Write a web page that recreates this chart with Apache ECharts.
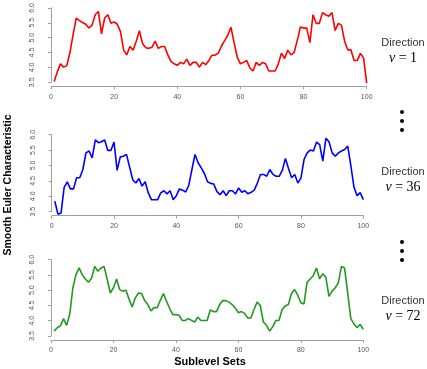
<!DOCTYPE html>
<html>
<head>
<meta charset="utf-8">
<script src="https://cdn.jsdelivr.net/npm/echarts@6/dist/echarts.min.js"></script>
<style>
  html, body { margin: 0; padding: 0; background: #fff; }
  #chart { width: 427px; height: 369px; }
</style>
</head>
<body>
<div id="chart"></div>
<script>
// sublevel set index 1..100
const sublevels = [
  1, 2, 3, 4, 5, 6, 7, 8, 9, 10, 11, 12, 13, 14, 15, 16, 17, 18, 19, 20,
  21, 22, 23, 24, 25, 26, 27, 28, 29, 30, 31, 32, 33, 34, 35, 36, 37, 38, 39, 40,
  41, 42, 43, 44, 45, 46, 47, 48, 49, 50, 51, 52, 53, 54, 55, 56, 57, 58, 59, 60,
  61, 62, 63, 64, 65, 66, 67, 68, 69, 70, 71, 72, 73, 74, 75, 76, 77, 78, 79, 80,
  81, 82, 83, 84, 85, 86, 87, 88, 89, 90, 91, 92, 93, 94, 95, 96, 97, 98, 99, 100
]

// direction nu = 1
const dir1 = [
  3.53, 3.85, 4.12, 4.01, 4.06, 4.50, 5.10, 5.66, 5.57, 5.51,
  5.45, 5.32, 5.42, 5.77, 5.88, 5.13, 5.66, 5.77, 5.48, 5.53,
  5.45, 5.20, 4.58, 4.42, 4.70, 4.58, 4.88, 5.23, 4.80, 4.66,
  4.64, 4.68, 4.88, 4.64, 4.70, 4.70, 4.42, 4.20, 4.12, 4.07,
  4.17, 4.12, 4.28, 4.07, 4.17, 4.17, 4.01, 4.17, 4.09, 4.23,
  4.41, 4.41, 4.48, 4.72, 4.90, 5.08, 5.35, 4.83, 4.34, 4.12,
  4.17, 4.23, 3.98, 3.88, 4.17, 4.07, 4.17, 4.12, 3.88, 3.88,
  3.88, 4.12, 4.48, 4.30, 4.58, 4.42, 4.50, 4.90, 5.36, 5.32,
  5.32, 4.83, 5.77, 5.48, 5.48, 5.84, 5.77, 5.72, 5.84, 5.24,
  5.48, 5.42, 4.88, 4.59, 4.59, 4.23, 4.23, 4.47, 4.32, 3.47
]

// direction nu = 36
const dir36 = [
  3.84, 3.42, 3.46, 4.29, 4.47, 4.24, 4.24, 4.60, 4.60, 4.87,
  5.41, 5.47, 5.25, 5.83, 5.74, 5.77, 5.83, 5.49, 5.49, 5.76,
  4.84, 5.28, 5.30, 5.36, 4.95, 4.54, 4.43, 4.58, 4.33, 4.47,
  4.11, 3.89, 3.89, 3.89, 4.11, 4.18, 4.08, 4.18, 3.89, 4.02,
  4.24, 4.20, 4.14, 4.36, 4.87, 5.36, 5.09, 4.92, 4.74, 4.47,
  4.42, 4.40, 4.16, 4.05, 4.18, 4.02, 4.18, 4.18, 4.08, 4.27,
  4.13, 4.18, 4.08, 4.13, 4.20, 4.43, 4.71, 4.71, 4.65, 4.87,
  4.71, 4.65, 4.65, 4.84, 5.23, 4.90, 4.60, 4.71, 4.43, 4.60,
  5.20, 5.41, 5.50, 5.47, 5.76, 5.68, 5.14, 5.88, 5.77, 5.41,
  5.30, 5.41, 5.47, 5.52, 5.63, 5.00, 4.30, 4.02, 4.12, 3.89
]

// direction nu = 72
const dir72 = [
  3.66, 3.77, 3.83, 4.07, 3.85, 4.21, 5.08, 5.51, 5.73, 5.51,
  5.37, 5.26, 5.40, 5.78, 5.62, 5.73, 5.78, 5.35, 4.91, 5.08,
  5.37, 5.02, 4.97, 5.00, 4.70, 4.45, 4.75, 4.91, 4.89, 4.66,
  4.53, 4.32, 4.43, 4.43, 4.67, 4.89, 4.64, 4.40, 4.20, 4.20,
  4.18, 4.01, 4.01, 4.07, 4.01, 3.96, 4.12, 4.01, 4.01, 4.01,
  4.35, 4.30, 4.30, 4.53, 4.66, 4.66, 4.61, 4.53, 4.42, 4.26,
  4.30, 4.24, 4.09, 4.09, 4.37, 4.61, 4.50, 3.96, 3.85, 3.66,
  3.80, 4.01, 4.01, 4.37, 4.48, 4.53, 4.89, 5.02, 4.84, 4.59,
  4.55, 5.26, 5.37, 5.48, 5.73, 5.37, 5.54, 5.43, 4.80, 4.97,
  5.08, 5.24, 5.78, 5.73, 4.91, 4.07, 3.90, 3.77, 3.88, 3.72
]

const xTicks = [0, 20, 40, 60, 80, 100]
const yTicks = [3.5, 4.0, 4.5, 5.0, 5.5, 6.0]

const panels = [
  { data: dir1, color: '#ff0000', label: '1', grid: { left: 51, top: 5.7, width: 315.7, height: 76.6 } },
  { data: dir36, color: '#0000ff', label: '36', grid: { left: 51.7, top: 134.7, width: 311.6, height: 77 } },
  { data: dir72, color: '#229922', label: '72', grid: { left: 51, top: 259.7, width: 312.3, height: 76.3 } }
]

const axisGrey = '#a0a0a0'
const labelGrey = '#555'

const chart = echarts.init(document.getElementById('chart'))

const option = {
  animation: false,
  grid: panels.map(p => p.grid),
  xAxis: panels.map((p, i) => ({
    type: 'value',
    gridIndex: i,
    min: xTicks[0],
    max: xTicks[xTicks.length - 1],
    interval: 20,
    offset: 4,
    axisLine: { show: true, lineStyle: { color: axisGrey, width: 1 } },
    axisTick: { show: true, length: 3, lineStyle: { color: axisGrey } },
    axisLabel: { fontSize: 7, color: labelGrey, margin: 7, fontFamily: 'Liberation Sans' },
    splitLine: { show: false }
  })),
  yAxis: panels.map((p, i) => ({
    type: 'value',
    gridIndex: i,
    min: yTicks[0],
    max: yTicks[yTicks.length - 1],
    interval: 0.5,
    offset: 10,
    axisLine: { show: true, lineStyle: { color: axisGrey, width: 1 } },
    axisTick: { show: true, length: 3, lineStyle: { color: axisGrey } },
    axisLabel: {
      fontSize: 7, color: labelGrey, margin: 5, rotate: 90,
      fontFamily: 'Liberation Sans',
      formatter: v => v.toFixed(1)
    },
    splitLine: { show: false }
  })),
  series: panels.map((p, i) => ({
    type: 'line',
    xAxisIndex: i,
    yAxisIndex: i,
    data: p.data.map((v, k) => [sublevels[k], v]),
    showSymbol: false,
    clip: false,
    lineStyle: { color: p.color, width: 1.6 },
    itemStyle: { color: p.color }
  })),
  graphic: [
    // axis titles
    {
      type: 'text', x: 8, y: 185, rotation: Math.PI / 2,
      style: {
        text: 'Smooth Euler Characteristic', fill: '#000',
        font: 'bold 10.5px "Liberation Sans"', align: 'center', verticalAlign: 'middle'
      }
    },
    {
      type: 'text', x: 210, y: 362,
      style: {
        text: 'Sublevel Sets', fill: '#000',
        font: 'bold 11px "Liberation Sans"', align: 'center', verticalAlign: 'middle'
      }
    },
    // direction labels
    ...panels.flatMap((p, i) => {
      const yd = [43, 172, 301][i]
      return [
        {
          type: 'text', x: 403, y: yd,
          style: {
            text: 'Direction', fill: '#333',
            font: '11px "Liberation Sans"', align: 'center', verticalAlign: 'middle'
          }
        },
        {
          type: 'text', x: 403, y: yd + 15,
          style: {
            text: '{i|ν} = ' + p.label,
            font: '14px "Liberation Serif"', fill: '#000',
            align: 'center', verticalAlign: 'middle',
            rich: { i: { font: 'italic 14px "Liberation Serif"', fill: '#000' } }
          }
        }
      ]
    }),
    // vertical ellipsis dots
    ...[112, 121, 130, 242, 251, 260].map(cy => ({
      type: 'circle', shape: { cx: 402, cy: cy, r: 2 }, style: { fill: '#000' }
    }))
  ]
}

chart.setOption(option)
</script>
</body>
</html>
